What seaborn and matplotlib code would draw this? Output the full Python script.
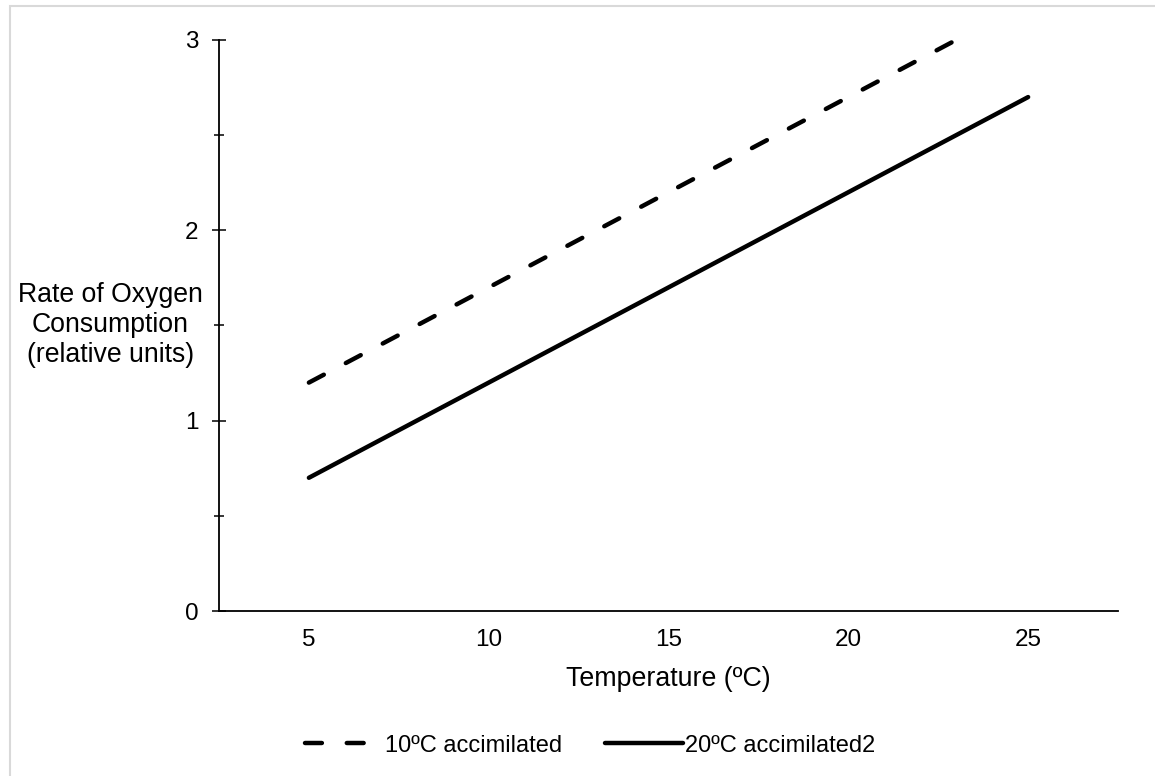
import matplotlib
matplotlib.use("Agg")
import matplotlib.pyplot as plt
import seaborn as sns
import pandas as pd
from matplotlib.patches import Rectangle
from matplotlib.ticker import MultipleLocator

# data
temp_10 = [5, 10, 15, 20, 23]
rate_10 = [1.2, 1.7, 2.2, 2.7, 3.0]
temp_20 = [5, 10, 15, 20, 25]
rate_20 = [0.7, 1.2, 1.7, 2.2, 2.7]
series_names = ["10ºC accimilated", "20ºC accimilated2"]
x_ticks = [5, 10, 15, 20, 25]
y_ticks = [0, 1, 2, 3]

sns.set_style("white")
plt.rcParams['font.family'] = ['Liberation Sans', 'DejaVu Sans']
plt.rcParams['text.color'] = 'black'
plt.rcParams['xtick.color'] = 'black'
plt.rcParams['ytick.color'] = 'black'
plt.rcParams['axes.labelcolor'] = 'black'

df10 = pd.DataFrame({'temp': temp_10, 'rate': rate_10})
df20 = pd.DataFrame({'temp': temp_20, 'rate': rate_20})

fig = plt.figure(figsize=(11.55, 7.76), dpi=100)
ax = fig.add_axes([0.1896, 0.2126, 0.7784, 0.7359])

sns.lineplot(data=df10, x='temp', y='rate', ax=ax, color='black', linewidth=3.2,
             label=series_names[0])
sns.lineplot(data=df20, x='temp', y='rate', ax=ax, color='black', linewidth=3.2,
             label=series_names[1])
l10, l20 = ax.get_lines()[:2]
l10.set_dashes((3.8, 5.6))
l10.set_dash_capstyle('round')
l20.set_solid_capstyle('round')

ax.set_xlim(2.5, 27.5)
ax.set_ylim(0, 3)
ax.set_xticks(x_ticks)
ax.set_yticks(y_ticks)
ax.yaxis.set_minor_locator(MultipleLocator(0.5))

for s in ['top', 'right']:
    ax.spines[s].set_visible(False)
for s in ['left', 'bottom']:
    ax.spines[s].set_linewidth(1.3)
    ax.spines[s].set_color('black')

ax.tick_params(axis='x', length=0, pad=13, labelsize=17.5)
ax.tick_params(axis='y', which='major', direction='inout', length=10, width=1.1,
               pad=10, labelsize=17.5, left=True)
ax.tick_params(axis='y', which='minor', direction='inout', length=7.5, width=1.1,
               left=True)

ax.set_xlabel('Temperature (ºC)', fontsize=19.3, labelpad=11)
ax.set_ylabel('Rate of Oxygen\nConsumption\n(relative units)', fontsize=19.2,
              rotation=0, ha='center', va='center', linespacing=1.2)
ax.yaxis.set_label_coords(-0.121, 0.5)

ax.get_legend().remove()
handles, labels = ax.get_legend_handles_labels()
fig.legend(handles, labels, loc='center', bbox_to_anchor=(0.511, 0.039), ncol=2,
           frameon=False, fontsize=17, handlelength=3.3, handletextpad=0.1,
           columnspacing=1.8)

# light frame around the chart area
fig.add_artist(Rectangle((10 / 1155, -0.05), 1.1, 1 - 6 / 776 + 0.05,
                         transform=fig.transFigure, fill=False,
                         edgecolor='#d9d9d9', linewidth=1.5, clip_on=False))

fig.savefig('out.png', dpi=100)
